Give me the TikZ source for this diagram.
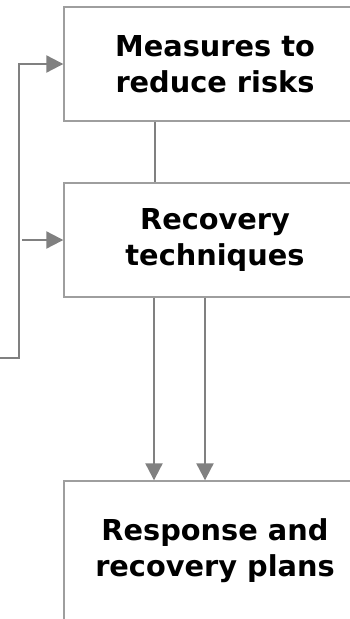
\documentclass[tikz,border=0pt]{standalone}
\usepackage{fontspec}
\setmainfont{DejaVu Sans}
\usetikzlibrary{arrows.meta}
\definecolor{boxgray}{gray}{0.62}
\definecolor{linegray}{gray}{0.5}
\tikzset{
  stagebox/.style={draw=boxgray, line width=1.4pt, fill=white, minimum width=302pt, align=center,
    font=\bfseries\fontsize{28.8}{36}\selectfont, inner sep=0pt},
  conn/.style={draw=linegray, line width=2.2pt},
  arr/.style={conn, -{Triangle[length=17pt,width=17pt]}},
}
\begin{document}
\begin{tikzpicture}[x=1pt,y=-1pt]
\clip (0,0) rectangle (350,619);
\fill[white] (0,0) rectangle (350,619);
\node[stagebox, minimum height=114pt] (b1) at (215,64) {Measures to\\reduce risks};
\node[stagebox, minimum height=114pt] (b2) at (215,240) {Recovery\\techniques};
\node[stagebox, minimum height=140pt] (b3) at (215,551) {Response and\\recovery plans};
\draw[conn] ([xshift=-60pt]b1.south) -- ([xshift=-60pt]b2.north);
\draw[arr] ([xshift=-61pt]b2.south) -- ([xshift=-61pt]b3.north);
\draw[arr] ([xshift=-10pt]b2.south) -- ([xshift=-10pt]b3.north);
\coordinate (fb0) at (0,358);
\coordinate (fb1) at (19,358);
\coordinate (fb2) at (22,240);
\draw[arr] (fb0) -- (fb1) |- (b1.west);
\draw[arr] (fb2) -- (b2.west);
\end{tikzpicture}
\end{document}
